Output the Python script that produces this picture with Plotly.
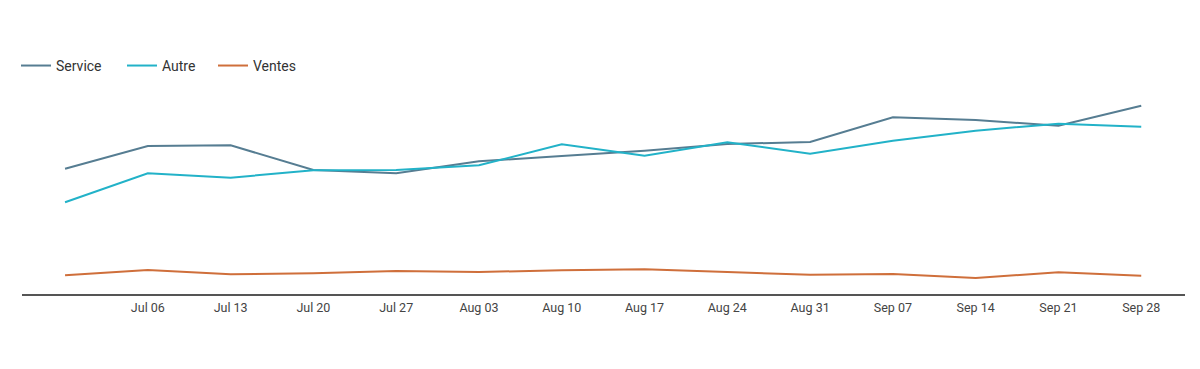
import plotly.graph_objects as go
import pandas as pd

dates = pd.date_range("2020-06-29", periods=14, freq="7D")
tick_dates = dates[1:]
tick_labels = [d.strftime("%b %d") for d in tick_dates]

service = [125.3, 148, 148.7, 124, 120.7, 132.7, 138, 143.3, 150, 152, 176.7, 174, 168.3, 188.3]
autre = [91.7, 120.7, 116.3, 123.7, 124, 128.7, 149.7, 138.3, 151.7, 140.3, 153.3, 163.3, 170.3, 167.3]
ventes = [18.7, 24, 19.7, 20.7, 23, 22, 23.7, 24.7, 22, 19.3, 20, 16, 21.7, 18.3]

series = [("Service", service, "#567d92", "legend"),
          ("Autre", autre, "#22b2c8", "legend2"),
          ("Ventes", ventes, "#cf6f3b", "legend3")]

fig = go.Figure()
for name, vals, color, leg in series:
    fig.add_trace(go.Scatter(x=dates, y=vals, name=name, mode="lines",
                             line=dict(color=color, width=2), legend=leg))

plot_w = 1163
leg_common = dict(orientation="h", xanchor="left", y=1.118, yanchor="middle",
                  font=dict(size=14, color="#333"), itemwidth=30,
                  bgcolor="rgba(0,0,0,0)")

fig.update_layout(
    width=1184, height=353,
    margin=dict(l=14, r=7, t=82, b=67),
    paper_bgcolor="white", plot_bgcolor="white",
    font=dict(family="Roboto", size=12, color="#444"),
    showlegend=True,
    legend=dict(x=-6 / plot_w, **leg_common),
    legend2=dict(x=100 / plot_w, **leg_common),
    legend3=dict(x=191 / plot_w, **leg_common),
    xaxis=dict(
        range=[dates[0] - pd.Timedelta(days=3.64), dates[-1] + pd.Timedelta(days=3.7)],
        tickvals=list(tick_dates), ticktext=tick_labels,
        showgrid=False, zeroline=False, showline=True, linecolor="#555", linewidth=2,
        ticks="outside", ticklen=1, tickcolor="rgba(0,0,0,0)",
        tickfont=dict(size=12.5, color="#444"),
    ),
    yaxis=dict(range=[0, 204], visible=False, showgrid=False, zeroline=False),
)

fig.write_html("out.html")
